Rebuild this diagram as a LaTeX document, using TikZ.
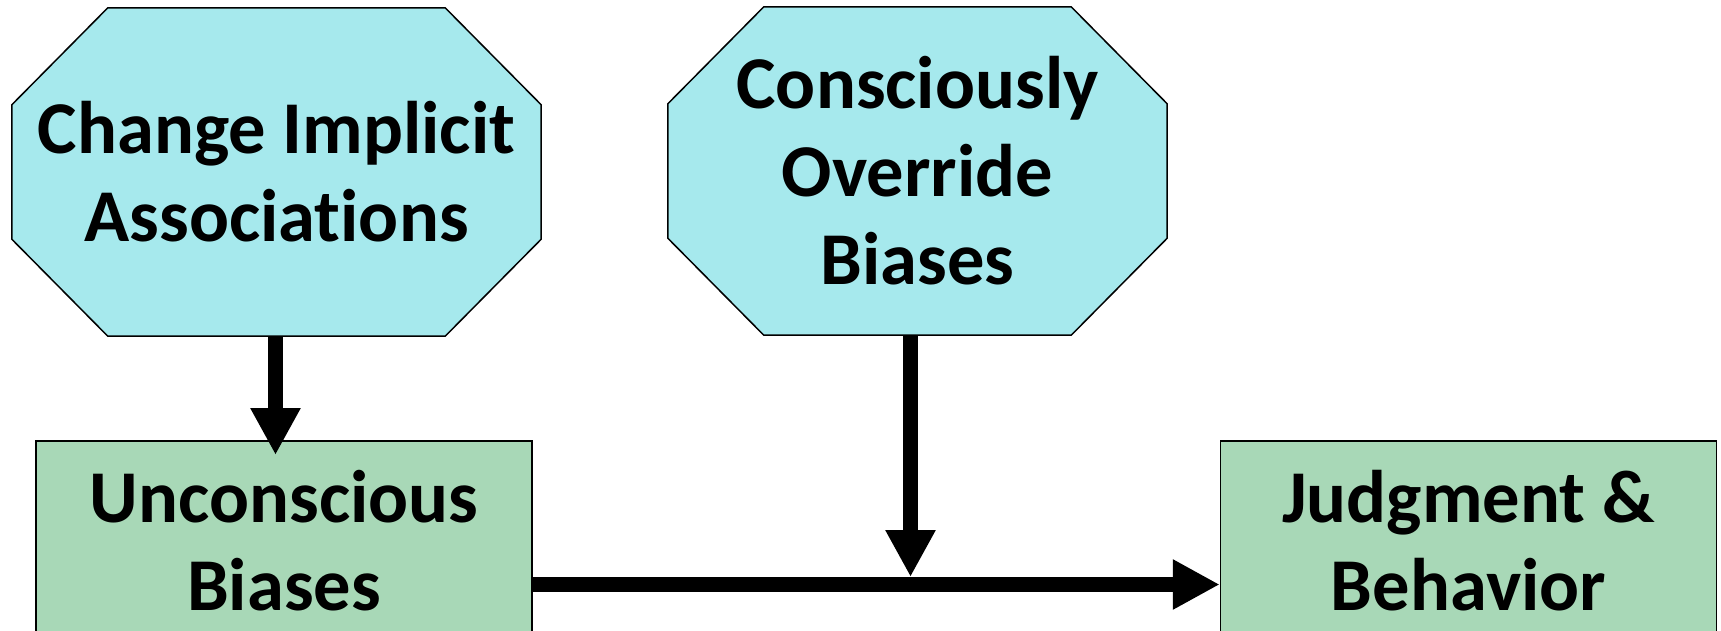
\documentclass[tikz,border=0pt]{standalone}
\usepackage{fontspec}
\setmainfont{Carlito}[Ligatures=NoCommon]
\usetikzlibrary{arrows.meta,backgrounds}
\definecolor{octcyan}{RGB}{166,233,237}
\definecolor{boxgreen}{RGB}{168,216,183}
\begin{document}
\begin{tikzpicture}[x=1pt,y=-1pt,
  lbl/.style={font=\fontsize{74.5}{88}\selectfont\bfseries, align=center, inner sep=0pt},
  octnode/.style={lbl, minimum width=529pt, minimum height=328pt},
  boxnode/.style={lbl, draw=black, line width=1.5pt, fill=boxgreen, minimum width=496pt, minimum height=200pt},
  octshape/.style={draw=black, line width=1.5pt, fill=octcyan, line join=miter},
  flow/.style={line width=15pt, -{Triangle[length=47pt,width=47pt]}}]
\useasboundingbox (0,0) rectangle (1721,630);
\clip (0,0) rectangle (1721,630);

\node[octnode] (cia) at (276.5,172) {Change Implicit\\Associations};
\node[octnode, minimum width=499pt] (cob) at (917.5,171) {Consciously\\Override\\Biases};
\node[boxnode] (ub) at (284,541) {Unconscious\\Biases};
\node[boxnode] (jb) at (1468.5,541) {Judgment \&\\Behavior};

\begin{scope}[on background layer]
  \foreach \n in {cia,cob}{
    \draw[octshape] ([xshift=96pt]\n.north west) -- ([xshift=-96pt]\n.north east)
      -- ([yshift=-97pt]\n.north east) -- ([yshift=97pt]\n.south east)
      -- ([xshift=-96pt]\n.south east) -- ([xshift=96pt]\n.south west)
      -- ([yshift=97pt]\n.south west) -- ([yshift=-97pt]\n.north west) -- cycle;
  }
\end{scope}

\coordinate (mid) at (910.5,577);
\coordinate (hy) at (0,584.5);
\coordinate (tip1) at (275.5,455);

\draw[flow] (cia.south -| tip1) -- (tip1);
\draw[flow] (cob.south -| mid) -- (mid);
\draw[flow] (ub.east |- hy) -- (jb.west |- hy);
\end{tikzpicture}
\end{document}
